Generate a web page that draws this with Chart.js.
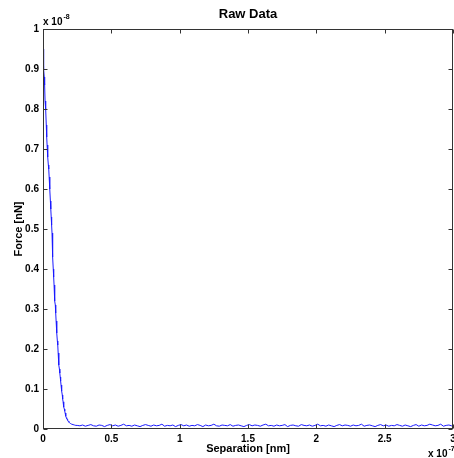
<!DOCTYPE html>
<html>
<head>
<meta charset="utf-8">
<script src="https://cdn.jsdelivr.net/npm/chart.js@4.4.0/dist/chart.umd.min.js"></script>
<style>
html,body{margin:0;padding:0;background:#fff;}
#wrap{width:454px;height:458px;}
</style>
</head>
<body>
<div id="wrap"><canvas id="c" width="454" height="458"></canvas></div>
<script>
// Separation in units of 1e-7, Force in units of 1e-8
const nearX = [0.000,0.003,0.006,0.009,0.012,0.015,0.018,0.021,0.024,0.027,
  0.030,0.033,0.036,0.039,0.042,0.045,0.048,0.051,0.054,0.057,
  0.060,0.063,0.066,0.069,0.072,0.075,0.078,0.081,0.084,0.087,
  0.090,0.093,0.096,0.099,0.102,0.105,0.108,0.111,0.114,0.117,
  0.120,0.123,0.126,0.129,0.132,0.135,0.138,0.141,0.144,0.147,
  0.150,0.153,0.156,0.159,0.162,0.165,0.168,0.171,0.174,0.177,
  0.180,0.185,0.190,0.195,0.200,0.210,0.220,0.230,0.240];
const nearY = [0.95,0.94,0.90,0.88,0.86,0.82,0.80,0.80,0.76,0.73,
  0.71,0.69,0.68,0.66,0.65,0.63,0.61,0.60,0.57,0.55,
  0.53,0.51,0.49,0.46,0.43,0.40,0.38,0.36,0.34,0.32,
  0.31,0.29,0.27,0.26,0.24,0.22,0.21,0.19,0.17,0.16,
  0.15,0.14,0.13,0.12,0.11,0.10,0.095,0.085,0.075,0.068,
  0.060,0.055,0.050,0.045,0.040,0.035,0.032,0.028,0.026,0.024,
  0.022,0.019,0.017,0.015,0.014,0.012,0.011,0.010,0.009];
const farX = [0.25,0.27,0.29,0.31,0.33,0.35,0.37,0.39,0.41,0.43,
  0.45,0.47,0.49,0.51,0.53,0.55,0.57,0.59,0.61,0.63,
  0.65,0.67,0.69,0.71,0.73,0.75,0.77,0.79,0.81,0.83,
  0.85,0.87,0.89,0.91,0.93,0.95,0.97,0.99,1.01,1.03,
  1.05,1.07,1.09,1.11,1.13,1.15,1.17,1.19,1.21,1.23,
  1.25,1.27,1.29,1.31,1.33,1.35,1.37,1.39,1.41,1.43,
  1.45,1.47,1.49,1.51,1.53,1.55,1.57,1.59,1.61,1.63,
  1.65,1.67,1.69,1.71,1.73,1.75,1.77,1.79,1.81,1.83,
  1.85,1.87,1.89,1.91,1.93,1.95,1.97,1.99,2.01,2.03,
  2.05,2.07,2.09,2.11,2.13,2.15,2.17,2.19,2.21,2.23,
  2.25,2.27,2.29,2.31,2.33,2.35,2.37,2.39,2.41,2.43,
  2.45,2.47,2.49,2.51,2.53,2.55,2.57,2.59,2.61,2.63,
  2.65,2.67,2.69,2.71,2.73,2.75,2.77,2.79,2.81,2.83,
  2.85,2.87,2.89,2.91,2.93,2.95,2.97,2.99,3.00];
const farY = [0.009,0.008,0.010,0.007,0.009,0.011,0.008,0.007,0.010,0.009,
  0.006,0.009,0.011,0.008,0.010,0.007,0.009,0.012,0.008,0.009,
  0.007,0.010,0.008,0.006,0.009,0.011,0.009,0.007,0.010,0.008,
  0.009,0.012,0.007,0.009,0.008,0.010,0.006,0.009,0.011,0.008,
  0.010,0.007,0.009,0.008,0.011,0.009,0.006,0.010,0.008,0.009,
  0.012,0.008,0.007,0.010,0.009,0.008,0.011,0.007,0.009,0.010,
  0.008,0.006,0.009,0.011,0.008,0.010,0.009,0.007,0.010,0.012,
  0.008,0.009,0.007,0.010,0.008,0.009,0.011,0.006,0.009,0.010,
  0.008,0.007,0.011,0.009,0.008,0.010,0.007,0.009,0.012,0.008,
  0.009,0.007,0.010,0.008,0.006,0.009,0.011,0.008,0.010,0.009,
  0.007,0.010,0.008,0.009,0.012,0.007,0.009,0.010,0.008,0.006,
  0.009,0.011,0.008,0.010,0.007,0.009,0.008,0.011,0.009,0.007,
  0.010,0.008,0.006,0.009,0.011,0.007,0.010,0.008,0.009,0.012,
  0.010,0.008,0.009,0.012,0.007,0.009,0.010,0.008,0.009];
const xTicks = [0,0.5,1,1.5,2,2.5,3];
const yTicks = [0,0.1,0.2,0.3,0.4,0.5,0.6,0.7,0.8,0.9,1];
const titleText = 'Raw Data';
const xTitle = 'Separation [nm]';
const yTitle = 'Force [nN]';
const xExp = '-7';
const yExp = '-8';

const pts = nearX.map((x,i)=>({x:x,y:nearY[i]})).concat(farX.map((x,i)=>({x:x,y:farY[i]})));
const FONT = 'Liberation Sans, Arial, Helvetica, sans-serif';
const AX = '#333333';

const boxPlugin = {
  id:'matlabBox',
  afterDraw(chart){
    const {ctx, chartArea:a, scales:{x, y}} = chart;
    ctx.save();
    ctx.strokeStyle = AX; ctx.lineWidth = 1;
    const L = Math.round(a.left)+0.5, R = Math.round(a.right)-0.5, T = Math.round(a.top)+0.5, B = Math.round(a.bottom)-0.5;
    ctx.strokeRect(L, T, R-L, B-T);
    ctx.beginPath();
    const tl = 4;
    xTicks.forEach(v=>{
      const px = Math.round(x.getPixelForValue(v))+0.5;
      ctx.moveTo(px, B); ctx.lineTo(px, B-tl);
      ctx.moveTo(px, T); ctx.lineTo(px, T+tl);
    });
    yTicks.forEach(v=>{
      const py = Math.round(y.getPixelForValue(v))+0.5;
      ctx.moveTo(L, py); ctx.lineTo(L+tl, py);
      ctx.moveTo(R, py); ctx.lineTo(R-tl, py);
    });
    ctx.stroke();
    // exponent labels
    ctx.fillStyle = '#000';
    ctx.textBaseline = 'alphabetic';
    ctx.textAlign = 'left';
    ctx.font = 'bold 10px ' + FONT;
    ctx.fillText('x 10', 43, 25);
    let w = ctx.measureText('x 10').width;
    ctx.font = 'bold 7px ' + FONT;
    ctx.fillText(yExp, 43 + w + 1, 19);
    ctx.font = 'bold 10px ' + FONT;
    ctx.fillText('x 10', 428, 457);
    w = ctx.measureText('x 10').width;
    ctx.font = 'bold 7px ' + FONT;
    ctx.fillText(xExp, 428 + w + 1, 451);
    ctx.restore();
  }
};

new Chart(document.getElementById('c'), {
  type:'line',
  data:{ datasets:[{ data:pts, borderColor:'#1a1aff', borderWidth:1, pointRadius:0, tension:0, fill:false }] },
  options:{
    responsive:false, animation:false,
    layout:{ padding:{ left:0, right:1, top:0, bottom:0 } },
    plugins:{
      legend:{display:false}, tooltip:{enabled:false},
      title:{ display:true, fullSize:false, text:titleText, color:'#000', font:{family:FONT, size:13, weight:'bold', lineHeight:1.2}, padding:{top:6.7, bottom:6.7} }
    },
    scales:{
      x:{ type:'linear', min:0, max:3,
        grid:{display:false, drawTicks:false}, border:{display:false},
        afterBuildTicks(s){ s.ticks = xTicks.map(v=>({value:v})); },
        afterFit(s){ s.height = 29; s.paddingLeft = 0; s.paddingRight = 0; },
        ticks:{ color:'#000', padding:4, maxRotation:0, autoSkip:false, font:{family:FONT, size:10, weight:'bold'}, callback:v=>String(+(+v).toFixed(2)) },
        title:{ display:true, text:xTitle, color:'#000', font:{family:FONT, size:11, weight:'bold', lineHeight:1.2}, padding:{top:0, bottom:2.4} }
      },
      y:{ type:'linear', min:0, max:1,
        grid:{display:false, drawTicks:false}, border:{display:false},
        afterBuildTicks(s){ s.ticks = yTicks.map(v=>({value:v})); },
        afterFit(s){ s.width = 43; s.paddingTop = 0; s.paddingBottom = 0; },
        ticks:{ color:'#000', padding:4, autoSkip:false, font:{family:FONT, size:10, weight:'bold'}, callback:v=>String(+(+v).toFixed(2)) },
        title:{ display:true, text:yTitle, color:'#000', font:{family:FONT, size:11, weight:'bold', lineHeight:1.2}, padding:{top:12, bottom:0} }
      }
    }
  },
  plugins:[boxPlugin]
});
</script>
</body>
</html>
